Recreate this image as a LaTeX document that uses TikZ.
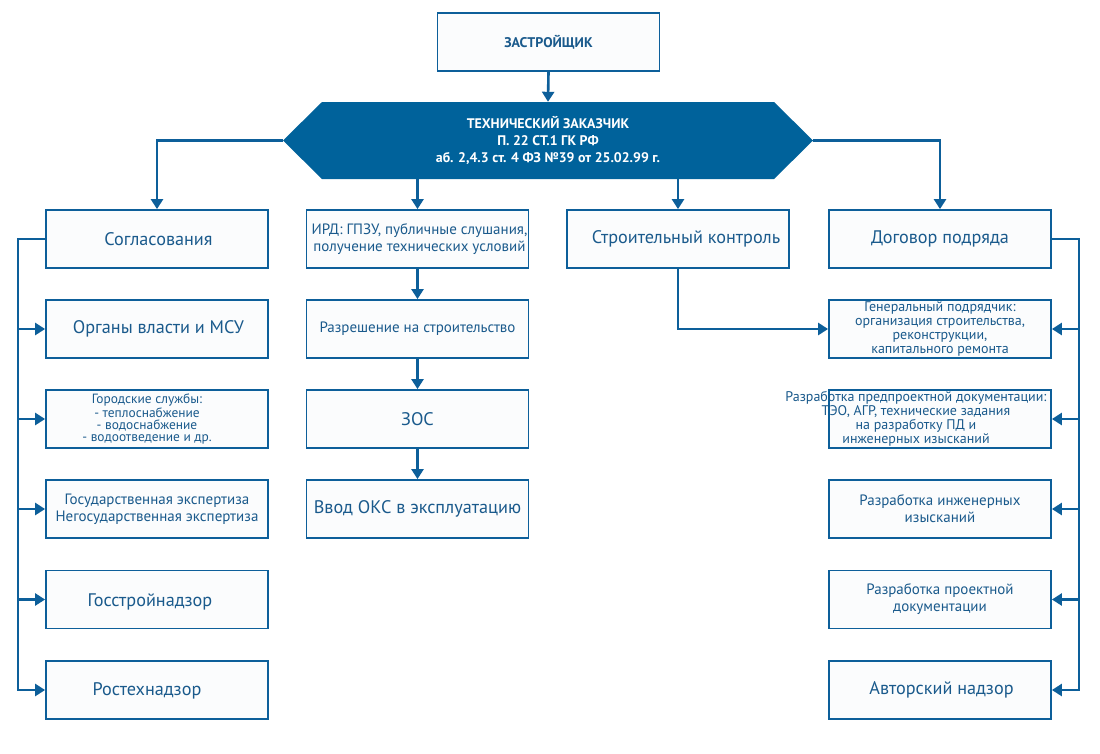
\documentclass[tikz,border=0pt]{standalone}
\usepackage{fontspec}
\setmainfont{PT Sans}
\usetikzlibrary{arrows.meta,calc}
\definecolor{lc}{HTML}{0D5F9A}
\definecolor{hc}{HTML}{00629B}
\definecolor{tc}{HTML}{1A5A8C}
\definecolor{bf}{HTML}{FBFCFD}
\begin{document}
\begin{tikzpicture}[x=1pt,y=-1pt,
  box/.style={draw=lc,line width=1.8pt,fill=bf,minimum width=222pt,minimum height=58pt,inner sep=0pt,text=tc,align=center},
  big/.style={font=\fontsize{18.2}{20}\selectfont},
  mid/.style={font=\fontsize{15}{17}\selectfont},
  sml/.style={font=\fontsize{14}{13.9}\selectfont},
  txt/.style={text=tc,align=center,inner sep=0pt},
  arr/.style={draw=lc,line width=2.6pt,-{Triangle[width=12pt,length=10pt]}},
  ln/.style={draw=lc,line width=2.6pt}]
\useasboundingbox (0,0) rectangle (1100,753);
\fill[white] (0,0) rectangle (1100,753);
% top
\node[box,font=\bfseries\fontsize{14}{15}\selectfont] (zas) at (548.5,42) {ЗАСТРОЙЩИК};
\fill[hc] (283,140.5) -- (322,102) -- (774,102) -- (813,140.5) -- (774,179) -- (322,179) -- cycle;
\node[minimum width=452pt,minimum height=77pt,inner sep=0pt,text=white,align=center,font=\bfseries\fontsize{13.9}{17}\selectfont] (tz) at (548,140.5) {ТЕХНИЧЕСКИЙ ЗАКАЗЧИК\\П. 22 СТ.1 ГК РФ\\аб. 2,4.3 ст. 4 ФЗ №39 от 25.02.99 г.};
\coordinate (tzl) at (283,140.5);
\coordinate (tzr) at (813,140.5);
% row 1
\node[box,big] (sogl) at (157,239) {\hspace*{3pt}Согласования};
\node[box] (ird) at (417.5,239) {};
\node[txt,mid] (irdt) at (419.5,239) {ИРД: ГПЗУ, публичные слушания,\\получение технических условий};
\node[box] (sk) at (678,239) {};
\node[txt,big] (skt) at (686,239) {Строительный контроль};
\node[box,big] (dog) at (940,239) {Договор подряда};
% left column
\node[box,big] (org) at (157,329) {\hspace*{3pt}Органы власти и МСУ};
\node[box] (gor) at (157,419) {};
\node[txt,font=\fontsize{13.4}{11.8}\selectfont] (gort) at (147,419) {Городские службы:\\- теплоснабжение\\- водоснабжение\\- водоотведение и др.};
\node[box,mid] (eksp) at (157,509) {Государственная экспертиза\\Негосударственная экспертиза};
\node[box] (gsn) at (157,599.5) {};
\node[txt,big] (gsnt) at (150,602) {Госстройнадзор};
\node[box] (rtn) at (157,690) {};
\node[txt,big] (rtnt) at (147,691) {Ростехнадзор};
% middle column
\node[box,mid] (raz) at (417.5,329) {Разрешение на строительство};
\node[box,big] (zos) at (417.5,419) {ЗОС};
\node[box,big] (vvod) at (417.5,509) {Ввод ОКС в эксплуатацию};
% right column
\node[box,sml] (gen) at (940,329) {Генеральный подрядчик:\\организация строительства,\\реконструкции,\\капитального ремонта};
\node[box] (pred) at (940,419) {};
\node[txt,sml] (predt) at (916,419) {Разработка предпроектной документации:\\ТЭО, АГР, технические задания\\на разработку ПД и\\инженерных изысканий};
\node[box,mid] (inz) at (940,509) {Разработка инженерных\\изысканий};
\node[box,mid] (proj) at (940,599.5) {Разработка проектной\\документации};
\node[box,big] (avt) at (940,690) {\hspace*{3pt}Авторский надзор};
% connectors
\draw[arr] (zas.south) -- (tz.north);
\draw[arr] (tzl) -| (sogl.north);
\draw[arr] (tzr) -| (dog.north);
\draw[arr] (tz.south -| ird.north) -- (ird.north);
\draw[arr] (tz.south -| sk.north) -- (sk.north);
\draw[arr] (ird.south) -- (raz.north);
\draw[arr] (raz.south) -- (zos.north);
\draw[arr] (zos.south) -- (vvod.north);
\draw[arr] (sk.south) |- (gen.west);
\foreach \t in {org,gor,eksp,gsn,rtn}
  \draw[arr] (sogl.west) -- ++(-27,0) |- (\t.west);
\foreach \t in {gen,pred,inz,proj,avt}
  \draw[arr] (dog.east) -- ++(27,0) |- (\t.east);
\end{tikzpicture}
\end{document}
